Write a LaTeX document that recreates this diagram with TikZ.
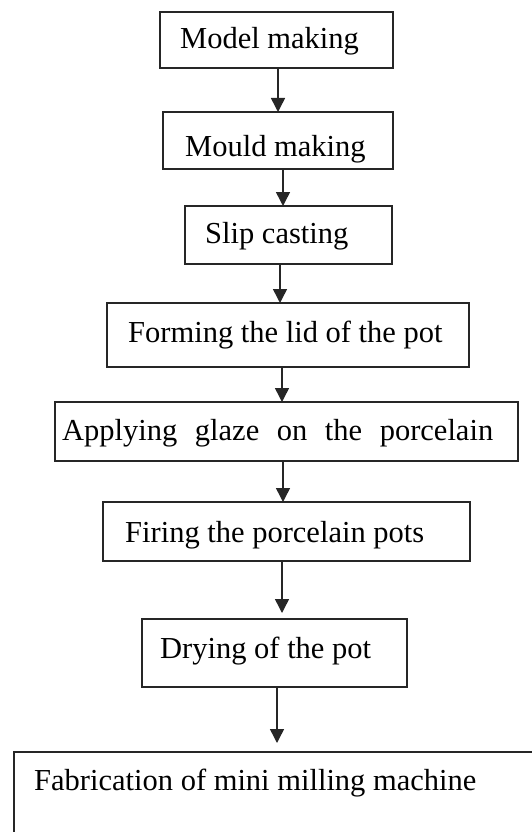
\documentclass[tikz,border=0pt]{standalone}
\usepackage{fontspec}
\setmainfont{Liberation Serif}
\usetikzlibrary{arrows.meta}
\begin{document}
\begin{tikzpicture}[x=1pt,y=-1pt,
  box/.style={draw=black!85, line width=1.6pt, anchor=north west, inner sep=0pt, outer sep=0pt},
  txt/.style={anchor=base west, inner sep=0pt, font=\fontsize{30.5}{36}\selectfont},
  arr/.style={draw=black!85, line width=1.5pt, -{Triangle[width=14pt,length=14pt]}}]
\useasboundingbox (0,0) rectangle (532,832);
\clip (0,0) rectangle (532,832);
% boxes
\node[box, minimum width=233pt, minimum height=56pt] (b1) at (160,12) {};
\node[box, minimum width=230pt, minimum height=57pt] (b2) at (163,112) {};
\node[box, minimum width=207pt, minimum height=58pt] (b3) at (185,206) {};
\node[box, minimum width=362pt, minimum height=64pt] (b4) at (107,303) {};
\node[box, minimum width=463pt, minimum height=59pt] (b5) at (55,402) {};
\node[box, minimum width=367pt, minimum height=59pt] (b6) at (103,502) {};
\node[box, minimum width=265pt, minimum height=68pt] (b7) at (142,619) {};
\node[box, minimum width=540pt, minimum height=120pt] (b8) at (14,752) {};
% texts
\node[txt] (t1) at (180,49) {Model making};
\node[txt] (t2) at (185,157) {Mould making};
\node[txt] (t3) at (205,243) {Slip casting};
\node[txt] (t4) at (128,342) {Forming the lid of the pot};
\node[txt] (t5) at (62,440) {\hbox to 431pt{Applying\hfil glaze\hfil on\hfil the\hfil porcelain}};
\node[txt] (t6) at (125,542) {Firing the porcelain pots};
\node[txt] (t7) at (160,658) {Drying of the pot};
\node[txt] (t8) at (34,790) {Fabrication of mini milling machine};
% arrows
\draw[arr] (278,0 |- b1.south) -- (278,0 |- b2.north);
\draw[arr] (283,0 |- b2.south) -- (283,0 |- b3.north);
\draw[arr] (280,0 |- b3.south) -- (280,0 |- b4.north);
\draw[arr] (282,0 |- b4.south) -- (282,0 |- b5.north);
\draw[arr] (283,0 |- b5.south) -- (283,0 |- b6.north);
\draw[arr, shorten >=6pt] (282,0 |- b6.south) -- (282,0 |- b7.north);
\draw[arr, shorten >=9pt] (277,0 |- b7.south) -- (277,0 |- b8.north);
\end{tikzpicture}
\end{document}
